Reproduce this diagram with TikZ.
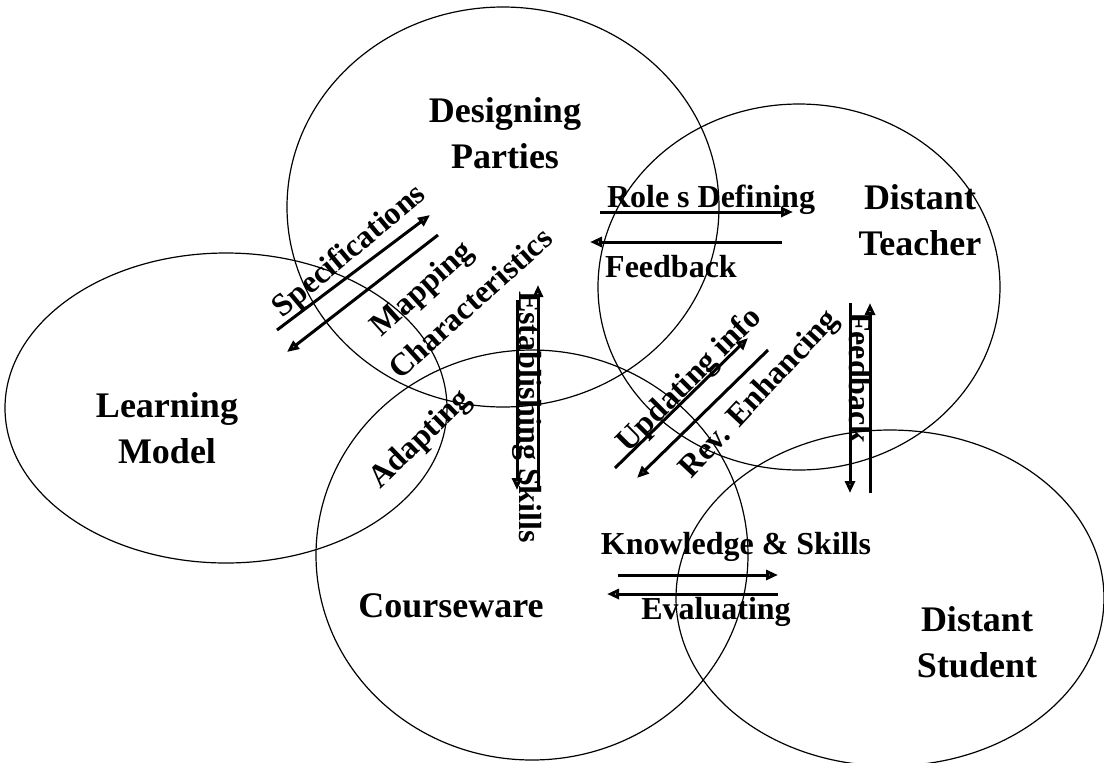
\documentclass[tikz,border=0pt]{standalone}
\usepackage{fontspec}
\setmainfont{Liberation Serif}
\usetikzlibrary{arrows.meta}
\tikzset{
    domain-circle/.style = {draw=black, line width=0.6pt},
    big-label/.style = {font=\fontsize{18}{23}\selectfont\bfseries, align=center, inner sep=0pt},
    small-label/.style = {font=\fontsize{16}{19}\selectfont\bfseries, inner sep=0pt},
    flow-arrow/.style = {line width=1.5pt, -{Triangle[open, length=6pt, width=5pt]}},
}

\begin{document}
\begin{tikzpicture}[x=0.5pt, y=-0.5pt]
\useasboundingbox (0,0) rectangle (1104,762);

% the five domains
\draw[domain-circle] (503,207) ellipse [x radius=216, y radius=200];
\draw[domain-circle] (226,408) ellipse [x radius=221, y radius=155];
\draw[domain-circle] (799,287) ellipse [x radius=201, y radius=183];
\draw[domain-circle] (532,555) ellipse [x radius=216, y radius=205];
\draw[domain-circle] (890,598) ellipse [x radius=214, y radius=168];

\node[big-label] (designing) at (505,133) {Designing\\Parties};
\node[big-label] (teacher) at (920,220) {Distant\\Teacher};
\node[big-label] (learning) at (167,428) {Learning\\Model};
\node[big-label] (courseware) at (451,606) {Courseware};
\node[big-label] (student) at (977,642) {Distant\\Student};

% flow labels
\node[small-label, rotate=40] (specs) at (350,252) {Specifications};
\node[small-label, rotate=42] (mapping) at (423,290) {Mapping};
\node[small-label, rotate=42] (traits) at (470,303) {Characteristics};
\node[small-label, rotate=44] (adapting) at (421,440) {Adapting};
\node[small-label, rotate=-90] (skills) at (527,417) {Establishing Skills};
\node[small-label] (roles) at (711,200) {Role s Defining};
\node[small-label] (feedback) at (671,267) {Feedback};
\node[small-label, rotate=45] (updating) at (690,381) {Updating info};
\node[small-label, rotate=47] (enhancing) at (760,395) {Rev. Enhancing};
\node[small-label] (knowledge) at (736,547) {Knowledge \& Skills};
\node[small-label] (evaluating) at (716,612) {Evaluating};
\node[small-label, rotate=-90] (guiding) at (860,378) {Feedback};

% arrow ends
\coordinate (spec-a) at (277,330); \coordinate (spec-b) at (430,215);
\coordinate (map-a) at (438,235); \coordinate (map-b) at (287,352);
\coordinate (skill-a) at (517,300); \coordinate (skill-b) at (517,490);
\coordinate (skill-c) at (538,490); \coordinate (skill-d) at (538,285);
\coordinate (role-a) at (600,212); \coordinate (role-b) at (793,212);
\coordinate (back-a) at (782,242); \coordinate (back-b) at (590,242);
\coordinate (upd-a) at (615,468); \coordinate (upd-b) at (748,338);
\coordinate (rev-a) at (768,350); \coordinate (rev-b) at (637,478);
\coordinate (know-a) at (618,575); \coordinate (know-b) at (778,575);
\coordinate (eval-a) at (778,594); \coordinate (eval-b) at (607,594);
\coordinate (ds-a) at (850,303); \coordinate (ds-b) at (850,493);
\coordinate (ds-c) at (870,493); \coordinate (ds-d) at (870,303);

\draw[flow-arrow] (spec-a) -- (spec-b);
\draw[flow-arrow] (map-a) -- (map-b);
\draw[flow-arrow] (skill-a) -- (skill-b);
\draw[flow-arrow] (skill-c) -- (skill-d);
\draw[flow-arrow] (role-a) -- (role-b);
\draw[flow-arrow] (back-a) -- (back-b);
\draw[flow-arrow] (upd-a) -- (upd-b);
\draw[flow-arrow] (rev-a) -- (rev-b);
\draw[flow-arrow] (know-a) -- (know-b);
\draw[flow-arrow] (eval-a) -- (eval-b);
\draw[flow-arrow] (ds-a) -- (ds-b);
\draw[flow-arrow] (ds-c) -- (ds-d);
\end{tikzpicture}
\end{document}
